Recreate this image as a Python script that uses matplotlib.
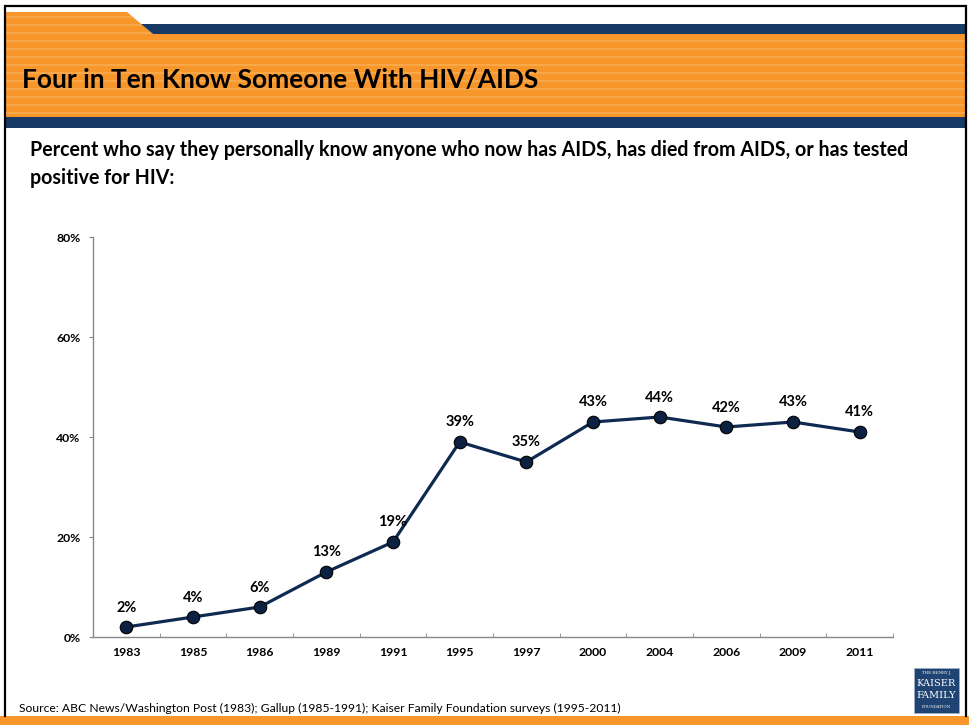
import matplotlib
matplotlib.use("Agg")
import matplotlib.pyplot as plt
from matplotlib.patches import Rectangle, Polygon

years = ["1983", "1985", "1986", "1989", "1991", "1995", "1997", "2000", "2004", "2006", "2009", "2011"]
values = [2, 4, 6, 13, 19, 39, 35, 43, 44, 42, 43, 41]
yticks = [0, 20, 40, 60, 80]
ytick_labels = ["0%", "20%", "40%", "60%", "80%"]

title = "Four in Ten Know Someone With HIV/AIDS"
subtitle = ("Percent who say they personally know anyone who now has AIDS, has died from AIDS, or has tested\n"
            "positive for HIV:")
source = "Source: ABC News/Washington Post (1983); Gallup (1985-1991); Kaiser Family Foundation surveys (1995-2011)"

W, H = 969, 725
FONT = "Lato"
ORANGE = "#F7962B"
ORANGE_LT = "#F9A849"
NAVY_BAND = "#173A64"
LINE = "#0F2A50"

fig = plt.figure(figsize=(W / 100, H / 100), dpi=100)
fig.patch.set_facecolor("white")

# Background/decoration axes in pixel coordinates
bg = fig.add_axes([0, 0, 1, 1])
bg.set_xlim(0, W)
bg.set_ylim(H, 0)
bg.axis("off")

# header orange block with tab
bg.add_patch(Polygon([[5, 12], [127, 12], [153, 34], [966, 34], [966, 117], [5, 117]],
                     closed=True, facecolor=ORANGE, edgecolor="none"))
for y in range(16, 117, 8):
    x_right = 966 if y >= 34 else 127 + (y - 12) * (26 / 22)
    bg.add_patch(Rectangle((5, y), x_right - 5, 2, facecolor=ORANGE_LT, edgecolor="none"))
bg.add_patch(Polygon([[141, 24], [966, 24], [966, 34], [153, 34]], closed=True,
                     facecolor=NAVY_BAND, edgecolor="none"))
bg.add_patch(Rectangle((5, 117), 961, 11, facecolor=NAVY_BAND, edgecolor="none"))
bg.add_patch(Rectangle((0, 716), W, 9, facecolor=ORANGE, edgecolor="none"))
bg.plot([5, 966], [6, 6], color="black", lw=1.6, solid_capstyle="butt")
bg.plot([5, 5], [6, 716], color="black", lw=1.6)
bg.plot([966, 966], [6, 716], color="black", lw=1.6)

# Logo
bg.add_patch(Rectangle((914, 668), 45, 45, facecolor="#1F4473", edgecolor="#9FB0C8", lw=0.5))
bg.text(936.5, 673, "THE HENRY J.", color="white", fontsize=2.8, ha="center", va="center", family="DejaVu Serif")
bg.text(936.5, 684, "KAISER", color="white", fontsize=7, ha="center", va="center", family="DejaVu Serif")
bg.text(936.5, 696, "FAMILY", color="white", fontsize=7, ha="center", va="center", family="DejaVu Serif")
bg.text(936.5, 707, "FOUNDATION", color="white", fontsize=2.8, ha="center", va="center", family="DejaVu Serif")

# Texts
bg.text(22, 80, title, fontsize=19, fontweight="bold", family=FONT, color="black", va="center", ha="left")
bg.text(30, 164, subtitle, fontsize=14.1, fontweight="bold", family=FONT, color="black",
        va="center", ha="left", linespacing=1.5)
bg.text(19, 708, source, fontsize=8.7, family=FONT, color="black", va="center", ha="left")

# Chart axes
ax = fig.add_axes([93 / W, (H - 637) / H, 800 / W, 400 / H])
ax.set_facecolor("none")
x = list(range(len(years)))
ax.plot(x, values, color=LINE, lw=2.3, marker="o", markersize=9,
        markerfacecolor="#0C2142", markeredgecolor="black", markeredgewidth=0.8, zorder=3)
for xi, v in zip(x, values):
    ax.annotate(f"{v}%", (xi, v), xytext=(0, 9), textcoords="offset points",
                ha="center", va="bottom", fontsize=10.5, fontweight="bold", family=FONT)

ax.set_xlim(-0.5, len(years) - 0.5)
ax.set_ylim(0, 80)
ax.set_xticks(x)
ax.set_xticklabels(years, fontsize=8.8, fontweight="bold", family=FONT)
ax.set_yticks(yticks)
ax.set_yticklabels(ytick_labels, fontsize=8.8, fontweight="bold", family=FONT)
ax.tick_params(axis="x", length=0, pad=7)
ax.set_xticks([i + 0.5 for i in range(-1, len(years))], minor=True)
ax.tick_params(axis="x", which="minor", direction="in", length=3, color="#888888")
ax.tick_params(axis="y", length=3, color="#888888", pad=6)
for s in ["top", "right"]:
    ax.spines[s].set_visible(False)
for s in ["left", "bottom"]:
    ax.spines[s].set_color("#888888")
    ax.spines[s].set_linewidth(1.0)

fig.savefig("out.png", dpi=100)
